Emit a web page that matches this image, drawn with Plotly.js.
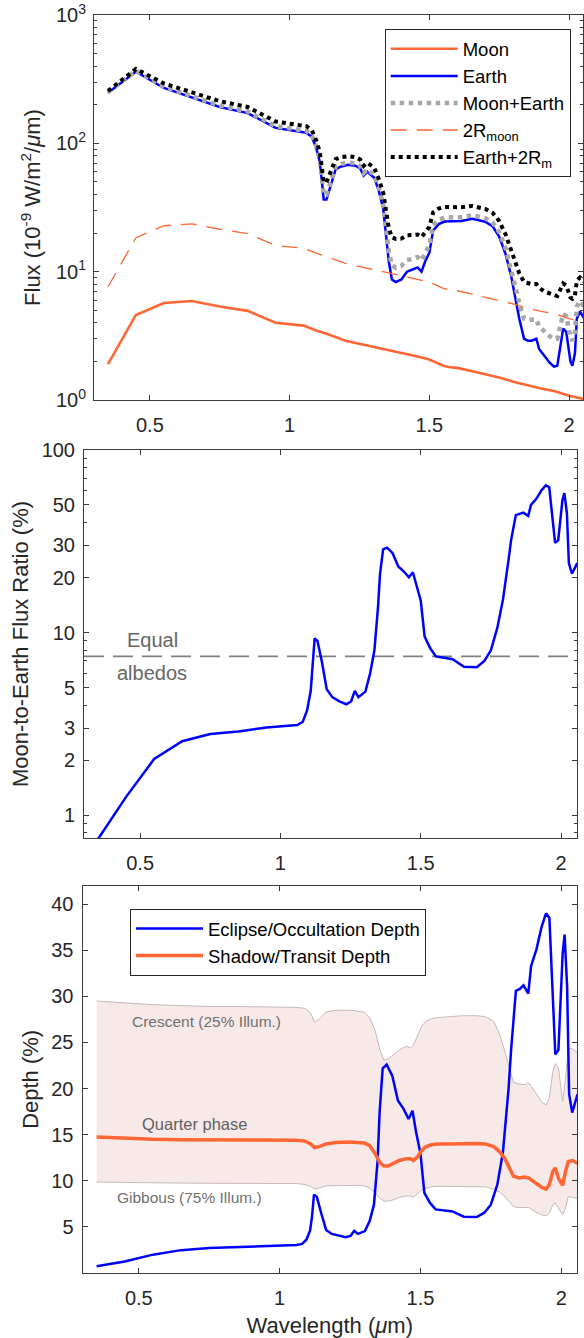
<!DOCTYPE html>
<html>
<head>
<meta charset="utf-8">
<script src="https://cdn.plot.ly/plotly-3.0.1.min.js"></script>
<style>
  html, body { margin: 0; padding: 0; background: #ffffff; }
  #chart { width: 584px; height: 1338px; }
</style>
</head>
<body>
<div id="chart"></div>
<script>
// ---------------- DATA ----------------
// Top panel: Moon (coarse grid)
const moonWl   = [0.35,0.45,0.55,0.65,0.75,0.85,0.95,1.05,1.10,1.13,1.20,1.25,1.30,1.35,1.40,1.45,1.50,1.55,1.575,1.60,1.65,1.70,1.75,1.80,1.85,1.90,1.95,2.00,2.05];
const moonFlux = [1.9,4.6,5.7,5.9,5.35,4.95,4.0,3.8,3.45,3.3,2.9,2.75,2.6,2.48,2.35,2.2,2.07,1.85,1.8,1.78,1.68,1.58,1.5,1.39,1.3,1.23,1.17,1.08,1.02];
const moon2RFlux = [7.6,18.4,22.8,23.6,21.4,19.8,16.0,15.2,13.8,13.2,11.6,11.0,10.4,9.9,9.4,8.8,8.3,7.4,7.2,7.1,6.7,6.3,6.0,5.6,5.2,4.9,4.7,4.3,4.1];

// Common wavelength grid (um) for Earth-related curves
const wl = [0.35,0.45,0.55,0.65,0.75,0.85,0.95,1.06,1.08,1.095,1.108,1.115,1.122,1.132,1.148,1.165,1.185,1.21,1.235,1.252,1.265,1.278,1.303,1.32,1.335,1.348,1.355,1.366,1.38,1.40,1.42,1.44,1.458,1.472,1.485,1.50,1.514,1.534,1.554,1.614,1.654,1.70,1.727,1.75,1.773,1.793,1.813,1.822,1.839,1.853,1.866,1.883,1.893,1.912,1.93,1.946,1.958,1.979,1.99,2.005,2.012,2.021,2.028,2.039,2.058];
const earthFlux = [248,362,270,228,192,172,132,121,112,92,72,52,36.5,36.5,47,63,66,68,67,64,56,60,54,42,31,18,12,8.7,8.3,8.7,10.0,10.4,10.8,10.0,12,14,21,23.5,24.6,24.8,25.8,24.5,22.5,18.8,13.7,9.2,5.5,4.3,3.0,2.9,2.9,3.0,2.5,2.2,1.96,1.82,1.85,3.6,3.4,2.0,1.85,2.3,4.3,4.9,4.2];
const moonEarthFlux = [250,367,276,234,197,177,136,125,116,95.5,75.4,55.4,39.8,39.8,50.2,66.1,69,70.9,69.8,66.8,58.7,62.7,56.6,44.6,33.5,20.5,14.5,11.2,10.7,11.1,12.3,12.6,13.0,12.2,14.1,16.1,23.0,25.4,26.4,26.6,27.5,26.1,24.0,20.3,15.2,10.6,6.9,5.65,4.3,4.2,4.2,4.25,3.74,3.4,3.15,3.0,3.0,4.7,4.5,3.1,2.9,3.4,5.35,5.9,5.2];
const earth2RmFlux = [256,380,293,252,213,192,148,136,126,106,85.7,65.5,49.9,49.7,59.8,75.4,78,79.5,78.2,75,66.8,70.7,64.4,52.2,41.1,28,21.9,18.5,18,18.1,19.2,19.3,19.5,18.6,20.4,22.3,29,31.1,31.9,31.8,32.5,30.8,28.7,24.8,19.5,14.8,11,9.7,8.3,8.1,8.0,8.0,7.5,7.0,6.76,6.5,6.45,8.1,7.8,6.3,6.15,6.5,8.5,9.0,8.2];

// Middle panel: Moon-to-Earth flux ratio (%)
const fluxRatio = [0.74,1.26,2.03,2.54,2.78,2.87,3.02,3.12,3.25,3.75,4.8,6.5,9.3,9.0,6.9,4.9,4.43,4.2,4.05,4.2,4.8,4.43,4.75,6.0,8.0,13.9,21,28.6,29.2,27.2,23,21.6,20.1,21.4,17.9,15,9.5,8.2,7.4,7.15,6.5,6.46,7.0,8.0,10.6,15.1,25,32,44,44.5,45.4,43.5,50,54,60,64,62.5,31,32,53,58,45,24,21,24];
const equalAlbedoRatio = 7.4;

// Bottom panel: eclipse / occultation depth (%)
const eclipseDepth = [0.73,1.24,1.99,2.48,2.70,2.79,2.93,3.03,3.15,3.61,4.58,6.1,8.5,8.26,6.45,4.67,4.24,4.03,3.89,4.03,4.58,4.24,4.54,5.66,7.41,12.2,17.4,22.2,22.6,21.4,18.7,17.8,16.7,17.6,15.2,13.0,8.7,7.6,6.9,6.67,6.1,6.07,6.54,7.41,9.58,13.1,20.0,24.2,30.6,30.8,31.2,30.3,33.3,35.1,37.5,39.0,38.5,23.7,24.2,34.6,36.7,31.0,19.4,17.4,19.4];

// Bottom panel: shadow / transit depth (%)
const transitWl = [0.35,0.45,0.55,0.65,0.75,0.85,0.95,1.06,1.09,1.11,1.124,1.14,1.165,1.2,1.25,1.28,1.3,1.32,1.34,1.355,1.37,1.385,1.40,1.425,1.45,1.465,1.475,1.49,1.505,1.52,1.54,1.56,1.6,1.65,1.7,1.73,1.76,1.78,1.80,1.816,1.83,1.85,1.87,1.885,1.895,1.91,1.93,1.946,1.958,1.97,1.979,1.99,2.005,2.015,2.025,2.04,2.058];
const quarterDepth = [14.75,14.6,14.5,14.45,14.45,14.45,14.4,14.4,14.3,14.0,13.6,13.7,14.0,14.15,14.2,14.15,14.1,13.8,12.9,12.0,11.6,11.6,11.8,12.2,12.4,12.4,12.2,12.6,13.3,13.7,13.9,14.0,14.0,14.05,14.05,14.0,13.7,13.2,12.4,11.4,10.5,10.3,10.4,10.3,10.1,9.7,9.3,9.1,9.6,11.0,11.4,10.3,9.5,11.0,12.1,12.2,11.9];
const crescentDepth = [29.5,29.3,29.1,29.0,28.9,28.9,28.85,28.8,28.7,28.2,27.2,27.5,28.3,28.5,28.5,28.4,28.3,27.7,26.2,24.3,23.1,23.2,23.6,24.2,24.6,24.4,24.7,25.7,26.8,27.3,27.6,27.7,27.8,27.9,27.9,27.8,27.3,26.0,24.0,22.2,20.7,20.5,20.4,20.6,20.2,19.5,18.6,18.2,19.0,21.8,22.7,22.3,18.6,21.0,24.4,24.3,23.9];
const gibbousDepth = [9.86,9.8,9.78,9.75,9.73,9.72,9.7,9.7,9.6,9.4,9.1,9.2,9.45,9.5,9.5,9.5,9.45,9.2,8.7,8.1,7.8,7.8,7.9,8.2,8.35,8.35,8.2,8.6,9.0,9.2,9.35,9.4,9.4,9.4,9.4,9.35,9.1,8.8,8.3,7.7,7.2,7.1,7.1,7.1,6.9,6.6,6.3,6.2,6.5,7.4,7.6,7.1,6.3,7.0,8.3,8.2,8.1];

// Tick labels
const xTickVals = [0.5, 1, 1.5, 2];
const xTickText = ['0.5', '1', '1.5', '2'];
const fluxTickVals = [1, 10, 100, 1000];
const fluxTickText = ['10<sup>0</sup>', '10<sup>1</sup>', '10<sup>2</sup>', '10<sup>3</sup>'];
const ratioTickVals = [1, 2, 3, 5, 10, 20, 30, 50, 100];
const ratioTickText = ['1', '2', '3', '5', '10', '20', '30', '50', '100'];
const depthTickVals = [5, 10, 15, 20, 25, 30, 35, 40];
const depthTickText = ['5', '10', '15', '20', '25', '30', '35', '40'];

// ---------------- STYLE / LAYOUT ----------------
const W = 584, H = 1338;
const px = v => v / W;
const py = v => 1 - v / H;
const FONT = 'Liberation Sans, Arial, Helvetica, sans-serif';
const AX = '#3a3a3a';
const TXT = '#262626';
const ORANGE = '#ff6633';
const BLUE = '#0000ff';

function minorLog(lo, hi) {
  const out = [];
  for (let d = lo; d < hi; d++) {
    for (let m = 2; m <= 9; m++) out.push(m * Math.pow(10, d));
  }
  return out;
}

function baseAxis(extra) {
  return Object.assign({
    showline: true, linecolor: AX, linewidth: 1, mirror: 'allticks',
    ticks: 'inside', ticklen: 5, tickwidth: 1, tickcolor: AX,
    showgrid: false, zeroline: false,
    tickfont: { family: FONT, size: 20, color: TXT }
  }, extra);
}

const traces = [
  // Top panel
  { x: moonWl, y: moonFlux, xaxis: 'x', yaxis: 'y', type: 'scatter', mode: 'lines', name: 'Moon',
    line: { color: ORANGE, width: 2.6 }, legend: 'legend', legendrank: 1 },
  { x: wl, y: earthFlux, xaxis: 'x', yaxis: 'y', type: 'scatter', mode: 'lines', name: 'Earth',
    line: { color: BLUE, width: 2.5 }, legend: 'legend', legendrank: 2 },
  { x: wl, y: moonEarthFlux, xaxis: 'x', yaxis: 'y', type: 'scatter', mode: 'lines', name: 'Moon+Earth',
    line: { color: '#a8a8a8', width: 4.5, dash: 'dot' }, legend: 'legend', legendrank: 3 },
  { x: moonWl, y: moon2RFlux, xaxis: 'x', yaxis: 'y', type: 'scatter', mode: 'lines', name: '2R<sub>moon</sub>',
    line: { color: ORANGE, width: 1.3, dash: '16px,10px' }, legend: 'legend', legendrank: 4 },
  { x: wl, y: earth2RmFlux, xaxis: 'x', yaxis: 'y', type: 'scatter', mode: 'lines', name: 'Earth+2R<sub>m</sub>',
    line: { color: '#000000', width: 4, dash: 'dot' }, legend: 'legend', legendrank: 5 },

  // Middle panel
  { x: wl, y: fluxRatio, xaxis: 'x2', yaxis: 'y2', type: 'scatter', mode: 'lines', name: 'Moon-to-Earth ratio',
    line: { color: BLUE, width: 2.5 }, showlegend: false },

  // Bottom panel: band
  { x: transitWl, y: gibbousDepth, xaxis: 'x3', yaxis: 'y3', type: 'scatter', mode: 'lines', name: 'Gibbous',
    line: { color: '#c4baba', width: 1 }, showlegend: false },
  { x: transitWl, y: crescentDepth, xaxis: 'x3', yaxis: 'y3', type: 'scatter', mode: 'lines', name: 'Crescent',
    line: { color: '#c4baba', width: 1 }, fill: 'tonexty', fillcolor: '#f8e9e9', showlegend: false },
  { x: wl, y: eclipseDepth, xaxis: 'x3', yaxis: 'y3', type: 'scatter', mode: 'lines', name: 'Eclipse/Occultation Depth',
    line: { color: BLUE, width: 2.5 }, legend: 'legend2', legendrank: 1 },
  { x: transitWl, y: quarterDepth, xaxis: 'x3', yaxis: 'y3', type: 'scatter', mode: 'lines', name: 'Shadow/Transit Depth',
    line: { color: ORANGE, width: 3.5 }, legend: 'legend2', legendrank: 2 }
];

const layout = {
  width: W, height: H, autosize: false,
  margin: { l: 0, r: 0, t: 0, b: 0 },
  paper_bgcolor: '#ffffff', plot_bgcolor: '#ffffff',
  font: { family: FONT, color: TXT },
  showlegend: true,

  xaxis: baseAxis({ domain: [px(94), px(583)], range: [0.3, 2.05], anchor: 'y',
    tickvals: xTickVals, ticktext: xTickText, ticklabelstandoff: 7 }),
  yaxis: baseAxis({ domain: [py(400), py(15)], type: 'log', range: [0, 3], anchor: 'x',
    tickvals: fluxTickVals, ticktext: fluxTickText, ticklabelstandoff: 3,
    minor: { ticks: 'inside', ticklen: 3, tickcolor: AX, tickvals: minorLog(0, 3), showgrid: false },
    title: { text: 'Flux (10<sup>-9</sup> W/m<sup>2</sup>/<i>μ</i>m)', font: { family: FONT, size: 22, color: TXT }, standoff: 9 } }),

  xaxis2: baseAxis({ domain: [px(84), px(577)], range: [0.3, 2.057], anchor: 'y2',
    tickvals: xTickVals, ticktext: xTickText, ticklabelstandoff: 7 }),
  yaxis2: baseAxis({ domain: [py(838), py(450)], type: 'log', range: [Math.log10(0.75), 2], anchor: 'x2',
    tickvals: ratioTickVals, ticktext: ratioTickText, ticklabelstandoff: 4,
    minor: { ticks: 'inside', ticklen: 3, tickcolor: AX, tickvals: [0.8, 0.9, 4, 6, 7, 8, 9, 40, 60, 70, 80, 90], showgrid: false },
    title: { text: 'Moon-to-Earth Flux Ratio (%)', font: { family: FONT, size: 22, color: TXT }, standoff: 6 } }),

  xaxis3: baseAxis({ domain: [px(82.5), px(577)], range: [0.3, 2.056], anchor: 'y3',
    tickvals: xTickVals, ticktext: xTickText, ticklabelstandoff: 7,
    title: { text: 'Wavelength (<i>μ</i>m)', font: { family: FONT, size: 22, color: TXT }, standoff: 9 } }),
  yaxis3: baseAxis({ domain: [py(1273), py(885.7)], range: [0, 42], anchor: 'x3',
    tickvals: depthTickVals, ticktext: depthTickText, ticklabelstandoff: 4,
    title: { text: 'Depth (%)', font: { family: FONT, size: 22, color: TXT }, standoff: 6 } }),

  legend: {
    x: px(384.7), y: py(29.3), xanchor: 'left', yanchor: 'top', traceorder: 'normal',
    bgcolor: '#ffffff', bordercolor: '#262626', borderwidth: 1,
    font: { family: FONT, size: 18.5, color: '#000000' },
    itemwidth: 67, tracegroupgap: 0
  },
  legend2: {
    x: px(130), y: py(909), xanchor: 'left', yanchor: 'top', traceorder: 'normal',
    bgcolor: '#ffffff', bordercolor: '#262626', borderwidth: 1,
    font: { family: FONT, size: 18.5, color: '#000000' },
    itemwidth: 67, tracegroupgap: 0
  },

  shapes: [
    { type: 'line', xref: 'x2 domain', yref: 'y2', x0: 0, x1: 1,
      y0: equalAlbedoRatio, y1: equalAlbedoRatio,
      line: { color: '#808080', width: 1.8, dash: '20px,9px' }, layer: 'below' }
  ],

  annotations: [
    { text: 'Equal', xref: 'paper', yref: 'paper', x: px(152), y: py(640), showarrow: false,
      xanchor: 'center', yanchor: 'middle', font: { family: FONT, size: 20, color: '#666666' } },
    { text: 'albedos', xref: 'paper', yref: 'paper', x: px(152), y: py(673), showarrow: false,
      xanchor: 'center', yanchor: 'middle', font: { family: FONT, size: 20, color: '#666666' } },
    { text: 'Crescent (25% Illum.)', xref: 'paper', yref: 'paper', x: px(206), y: py(1022), showarrow: false,
      xanchor: 'center', yanchor: 'middle', font: { family: FONT, size: 15.5, color: '#707070' } },
    { text: 'Quarter phase', xref: 'paper', yref: 'paper', x: px(194), y: py(1124), showarrow: false,
      xanchor: 'center', yanchor: 'middle', font: { family: FONT, size: 16.5, color: '#606060' } },
    { text: 'Gibbous (75% Illum.)', xref: 'paper', yref: 'paper', x: px(189), y: py(1197), showarrow: false,
      xanchor: 'center', yanchor: 'middle', font: { family: FONT, size: 15.5, color: '#707070' } }
  ]
};

Plotly.newPlot('chart', traces, layout, { displayModeBar: false, staticPlot: true });
</script>
</body>
</html>
